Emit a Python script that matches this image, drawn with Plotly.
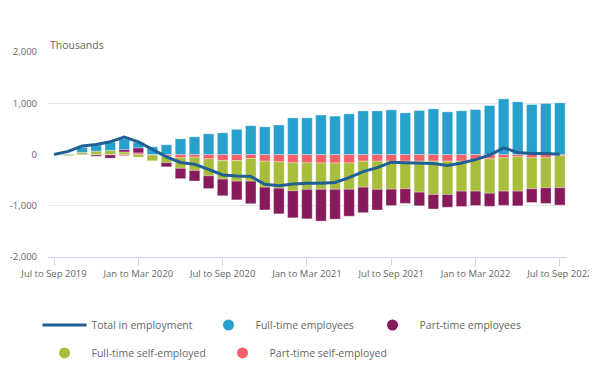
import plotly.graph_objects as go

periods = [
    "Jul to Sep 2019", "Aug to Oct 2019", "Sep to Nov 2019", "Oct to Dec 2019", "Nov to Jan 2020", "Dec to Feb 2020",
    "Jan to Mar 2020", "Feb to Apr 2020", "Mar to May 2020", "Apr to Jun 2020", "May to Jul 2020", "Jun to Aug 2020",
    "Jul to Sep 2020", "Aug to Oct 2020", "Sep to Nov 2020", "Oct to Dec 2020", "Nov to Jan 2021", "Dec to Feb 2021",
    "Jan to Mar 2021", "Feb to Apr 2021", "Mar to May 2021", "Apr to Jun 2021", "May to Jul 2021", "Jun to Aug 2021",
    "Jul to Sep 2021", "Aug to Oct 2021", "Sep to Nov 2021", "Oct to Dec 2021", "Nov to Jan 2022", "Dec to Feb 2022",
    "Jan to Mar 2022", "Feb to Apr 2022", "Mar to May 2022", "Apr to Jun 2022", "May to Jul 2022", "Jun to Aug 2022",
    "Jul to Sep 2022",
]

tick_labels = ["Jul to Sep 2019", "Jan to Mar 2020", "Jul to Sep 2020", "Jan to Mar 2021",
               "Jul to Sep 2021", "Jan to Mar 2022", "Jul to Sep 2022"]

y_tick_values = [2000, 1000, 0, -1000, -2000]
y_tick_labels = ["2,000", "1,000", "0", "-1,000", "-2,000"]

# Thousands, change since Jul to Sep 2019
full_time_employees = [0, 10, 100, 117, 162, 208, 110, 150, 190, 305, 345, 403, 422, 490, 562, 540, 575, 715,
                       715, 770, 748, 793, 850, 850, 870, 812, 858, 890, 832, 852, 877, 955, 1085, 1027, 975, 995, 1008]
part_time_employees = [0, 0, 0, -25, -60, 45, 98, 0, -80, -200, -205, -250, -325, -365, -440, -445, -500, -527,
                       -575, -620, -582, -525, -498, -403, -320, -284, -266, -283, -249, -300, -280, -256, -276, -286, -266, -305, -338]
full_time_self_employed = [0, -15, 40, 65, 78, 50, -50, -110, -125, -205, -260, -330, -360, -400, -442, -507, -515, -545,
                           -517, -514, -514, -514, -507, -550, -546, -540, -605, -650, -650, -585, -617, -670, -650, -670, -605, -585, -624]
part_time_self_employed = [0, -10, -10, -10, -10, -25, 32, -12, -35, -65, -52, -85, -120, -120, -78, -130, -143, -163,
                           -163, -165, -165, -165, -130, -130, -130, -130, -130, -130, -130, -130, -98, -85, -65, -45, -65, -65, -25]
total_in_employment = [0, 60, 165, 195, 250, 340, 245, 100, -45, -155, -190, -290, -400, -420, -428, -580, -610, -575,
                       -560, -560, -545, -450, -335, -255, -150, -160, -170, -175, -215, -165, -100, -10, 130, 40, 20, 20, 5]

C_FTE = "#27a0cc"
C_PTE = "#871a5b"
C_FTS = "#a8bd3a"
C_PTS = "#f66068"
C_TOT = "#206095"
FONT = "Open Sans"
GREY = "#666666"

fig = go.Figure()

bar_series = [
    ("Part-time self-employed", part_time_self_employed, C_PTS),
    ("Full-time self-employed", full_time_self_employed, C_FTS),
    ("Part-time employees", part_time_employees, C_PTE),
    ("Full-time employees", full_time_employees, C_FTE),
]
for name, vals, col in bar_series:
    fig.add_trace(go.Bar(
        x=periods, y=vals, name=name, showlegend=False,
        marker=dict(color=col, line=dict(color="rgba(255,255,255,0.6)", width=0.5)),
    ))

fig.add_trace(go.Scatter(
    x=periods, y=total_in_employment, name="Total in employment", mode="lines",
    line=dict(color=C_TOT, width=3), legend="legend", legendrank=1,
))

legend_items = [
    ("Full-time employees", C_FTE, "legend", 2),
    ("Part-time employees", C_PTE, "legend", 3),
    ("Full-time self-employed", C_FTS, "legend2", 4),
    ("Part-time self-employed", C_PTS, "legend2", 5),
]
for name, col, lg, rank in legend_items:
    fig.add_trace(go.Scatter(
        x=[None], y=[None], name=name, mode="markers",
        marker=dict(color=col, size=11, symbol="circle"),
        legend=lg, legendrank=rank,
    ))

# page body has an 8px margin: figure is 589x378 placed at (8, 8)
fig.update_layout(
    width=589, height=378,
    margin=dict(l=40, r=30, t=44, b=129, autoexpand=False),
    paper_bgcolor="white", plot_bgcolor="white",
    barmode="relative", bargap=0.25,
    font=dict(family=FONT, size=10, color=GREY),
    xaxis=dict(
        type="category", range=[-0.43, 36.51], automargin=False,
        tickmode="array", tickvals=tick_labels, ticktext=tick_labels,
        ticks="outside", ticklen=8, tickcolor="#ccd6eb", tickwidth=1,
        showline=True, linecolor="#ccd6eb", linewidth=1,
        showgrid=False, zeroline=False,
        tickfont=dict(family=FONT, size=9.5, color=GREY),
    ),
    yaxis=dict(
        range=[-2000, 2000], automargin=False,
        tickmode="array", tickvals=y_tick_values, ticktext=y_tick_labels,
        showgrid=True, gridcolor="#e6e6e6", gridwidth=1,
        zeroline=False, showline=False, ticks="",
        ticklabelstandoff=10,
        tickfont=dict(family=FONT, size=9.5, color=GREY),
    ),
    legend=dict(
        orientation="h", x=-0.0202, xanchor="left", y=-0.3317, yanchor="middle",
        itemwidth=44, entrywidth=105, entrywidthmode="pixels",
        font=dict(family=FONT, size=10.5, color=GREY), bgcolor="rgba(0,0,0,0)",
    ),
    legend2=dict(
        orientation="h", x=-0.0202, xanchor="left", y=-0.468, yanchor="middle",
        itemwidth=44, entrywidth=119, entrywidthmode="pixels",
        font=dict(family=FONT, size=10.5, color=GREY), bgcolor="rgba(0,0,0,0)",
    ),
    annotations=[dict(
        text="Thousands", xref="paper", yref="paper", x=0, y=1.034,
        xanchor="left", yanchor="middle", showarrow=False,
        font=dict(family=FONT, size=10.5, color=GREY),
    )],
)

fig.write_html("out.html")
